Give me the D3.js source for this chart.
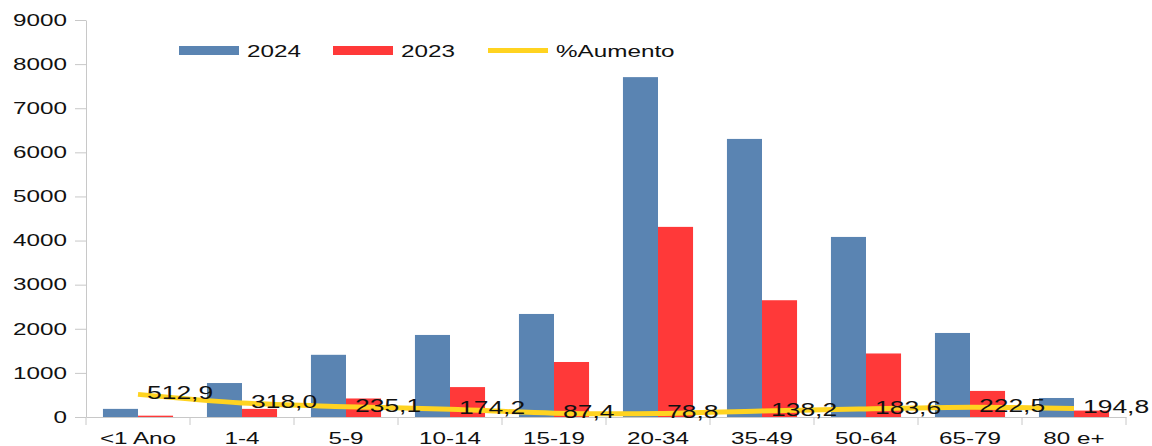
<!DOCTYPE html>
<html>
<head>
<meta charset="utf-8">
<script src="https://cdn.jsdelivr.net/npm/d3@7"></script>
<style>
  body { margin: 0; background: #fff; }
  text { font-family: "Liberation Sans", Arial, sans-serif; fill: #111; }
</style>
</head>
<body>
<svg id="chart"></svg>
<script>
let w = 1152;
let h = 446;

// data
let categories = ['<1 Ano', '1-4', '5-9', '10-14', '15-19', '20-34', '35-49', '50-64', '65-79', '80 e+'];
let values2024 = [184, 770, 1410, 1860, 2336, 7705, 6304, 4082, 1905, 431];
let values2023 = [30, 184, 420, 678, 1247, 4310, 2647, 1440, 591, 146];
let aumento = [512.9, 318.0, 235.1, 174.2, 87.4, 78.8, 138.2, 183.6, 222.5, 194.8];
let yTicks = [0, 1000, 2000, 3000, 4000, 5000, 6000, 7000, 8000, 9000];

let blue = '#5a84b2';
let red = '#ff3939';
let yellow = '#ffd320';
let axisColor = '#c8c8c8';
let sx = 1.47; // text looks stretched sideways in the reference

let fmt = v => v.toFixed(1).replace('.', ',');

let svg = d3.select('#chart').attr('width', w).attr('height', h);

let xScale = d3.scaleBand().domain(categories).range([86, 1126]).padding(0);
let inner = d3.scaleBand().domain(['2024', '2023'])
  .range([xScale.bandwidth() * 0.163, xScale.bandwidth() * 0.837]).padding(0);
let yScale = d3.scaleLinear().domain([0, 9000]).range([417, 20]);

// y axis
let yAxis = d3.axisLeft(yScale).tickValues(yTicks).tickFormat(d3.format('d'))
  .tickSize(11).tickSizeOuter(0).tickPadding(8);
let yG = svg.append('g').attr('transform', 'translate(86,0)').call(yAxis);
yG.select('.domain').attr('stroke', axisColor);
yG.selectAll('.tick line').attr('stroke', axisColor);
yG.selectAll('.tick text')
  .attr('font-size', 16.5)
  .attr('fill', '#111')
  .attr('x', null)
  .attr('transform', `translate(-19,0) scale(${sx},1)`);

// x axis: labels at band centres, ticks at band boundaries
let xAxis = d3.axisBottom(xScale).tickSize(0).tickSizeOuter(0).tickPadding(0);
let xG = svg.append('g').attr('transform', 'translate(0,417)').call(xAxis);
xG.select('.domain').attr('stroke', axisColor);
xG.selectAll('.tick text')
  .attr('font-size', 16.5)
  .attr('fill', '#111')
  .attr('y', null)
  .attr('dy', null)
  .attr('dominant-baseline', 'central')
  .attr('transform', `translate(0,21) scale(${sx},1)`);

let bounds = categories.map(c => xScale(c)).concat([xScale(categories[categories.length - 1]) + xScale.bandwidth()]);
svg.append('g').selectAll('line')
  .data(bounds)
  .enter()
  .append('line')
  .attr('x1', d => d).attr('x2', d => d)
  .attr('y1', 417).attr('y2', 425)
  .attr('stroke', axisColor);

// bars
let bars = svg.append('g');
bars.selectAll('rect.b24')
  .data(values2024)
  .enter()
  .append('rect')
  .attr('class', 'b24')
  .attr('x', (d, i) => xScale(categories[i]) + inner('2024'))
  .attr('y', d => yScale(d))
  .attr('width', inner.bandwidth())
  .attr('height', d => yScale(0) - yScale(d))
  .attr('fill', blue);
bars.selectAll('rect.b23')
  .data(values2023)
  .enter()
  .append('rect')
  .attr('class', 'b23')
  .attr('x', (d, i) => xScale(categories[i]) + inner('2023'))
  .attr('y', d => yScale(d))
  .attr('width', inner.bandwidth())
  .attr('height', d => yScale(0) - yScale(d))
  .attr('fill', red);

// %Aumento line, plotted on the same axis
let cx = i => xScale(categories[i]) + xScale.bandwidth() / 2;
let lineFunction = d3.line()
  .x((d, i) => cx(i))
  .y(d => yScale(d))
  .curve(d3.curveCatmullRom.alpha(0.5));

svg.append('path')
  .attr('d', lineFunction(aumento))
  .attr('stroke', yellow)
  .attr('stroke-width', 5)
  .attr('fill', 'none');

svg.append('g').selectAll('text')
  .data(aumento)
  .enter()
  .append('text')
  .attr('font-size', 18)
  .attr('dominant-baseline', 'central')
  .attr('transform', (d, i) => `translate(${cx(i) + 9},${yScale(d) - 1}) scale(${sx},1)`)
  .text(d => fmt(d));

// legend
let legend = [
  { name: '2024', color: blue, x: 179, thick: 9 },
  { name: '2023', color: red, x: 333, thick: 9 },
  { name: '%Aumento', color: yellow, x: 488, thick: 5 }
];
let lg = svg.append('g').selectAll('g')
  .data(legend)
  .enter()
  .append('g');
lg.append('rect')
  .attr('x', d => d.x)
  .attr('y', d => 50.5 - d.thick / 2)
  .attr('width', 60)
  .attr('height', d => d.thick)
  .attr('fill', d => d.color);
lg.append('text')
  .attr('font-size', 16.5)
  .attr('dominant-baseline', 'central')
  .attr('transform', d => `translate(${d.x + 68},51) scale(${sx},1)`)
  .text(d => d.name);
</script>
</body>
</html>
